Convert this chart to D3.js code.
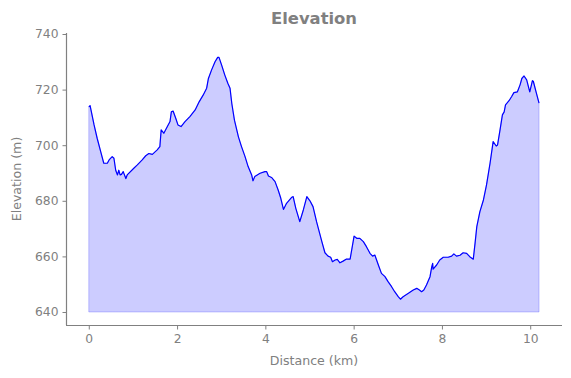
<!DOCTYPE html>
<html><head><meta charset="utf-8">
<script src="https://cdn.jsdelivr.net/npm/d3@7"></script>
<style>body{margin:0;background:#fff}svg{display:block}</style>
</head><body>
<svg id="c" width="571" height="378"></svg>
<script>
const distance = [0.00,0.03,0.12,0.19,0.27,0.34,0.42,0.46,0.53,0.57,0.61,0.65,0.68,0.71,0.74,0.78,0.84,0.87,1.02,1.10,1.21,1.29,1.36,1.44,1.55,1.61,1.64,1.70,1.78,1.84,1.87,1.91,1.97,2.02,2.09,2.18,2.29,2.41,2.50,2.59,2.67,2.71,2.78,2.86,2.92,2.95,3.01,3.08,3.15,3.20,3.24,3.30,3.39,3.46,3.54,3.61,3.69,3.72,3.76,3.88,3.99,4.03,4.07,4.14,4.22,4.29,4.35,4.41,4.48,4.60,4.63,4.69,4.78,4.86,4.94,5.01,5.08,5.16,5.28,5.35,5.42,5.48,5.52,5.58,5.63,5.69,5.76,5.83,5.92,6.01,6.07,6.14,6.22,6.29,6.37,6.43,6.48,6.56,6.63,6.71,6.78,6.86,6.93,7.01,7.06,7.12,7.24,7.35,7.43,7.49,7.54,7.59,7.65,7.73,7.77,7.79,7.80,7.88,7.95,8.03,8.14,8.22,8.27,8.33,8.41,8.48,8.56,8.63,8.71,8.75,8.79,8.86,8.94,9.01,9.09,9.16,9.23,9.26,9.31,9.37,9.41,9.44,9.52,9.58,9.63,9.71,9.77,9.81,9.86,9.92,9.99,10.05,10.07,10.14,10.20];
const elevation = [713.8,714.2,707.3,702.5,697.7,693.5,693.5,694.7,695.9,695.3,691.0,689.3,691.0,689.3,689.5,690.5,688.0,689.3,691.7,692.9,694.7,696.2,697.0,696.7,698.3,699.5,705.5,704.3,706.7,708.5,712.0,712.3,709.7,707.3,706.7,708.5,710.3,712.7,715.6,718.0,720.5,724.0,727.0,730.0,731.6,731.6,728.8,725.3,722.3,720.5,715.0,709.0,703.0,699.5,695.9,692.3,689.3,687.2,688.7,689.9,690.5,690.5,688.9,688.4,686.9,683.9,680.9,676.9,679.1,681.3,681.5,677.3,672.5,676.7,681.5,680.0,677.9,672.5,665.3,661.3,660.1,659.7,658.1,658.7,658.9,657.7,658.3,659.0,659.0,667.3,666.5,666.5,665.3,663.5,661.1,660.1,660.5,656.9,653.9,652.7,650.9,649.1,647.3,645.5,644.6,645.5,646.7,647.9,648.5,647.9,647.3,647.9,649.7,652.7,656.3,657.5,655.4,656.9,658.7,659.7,659.7,660.1,660.9,660.1,660.4,661.3,661.1,659.9,659.0,664.7,670.7,676.1,680.3,685.7,693.5,701.3,699.7,700.1,704.9,710.9,712.0,714.5,716.0,717.5,718.9,719.2,721.7,724.0,724.9,723.5,719.2,723.2,723.0,718.7,715.1];
const baseline = 640;
const xTicks = [0,2,4,6,8,10];
const yTicks = [640,660,680,700,720,740];
const title = "Elevation";
const xLabel = "Distance (km)";
const yLabel = "Elevation (m)";

const data = distance.map((d,i)=>({d, e: elevation[i]}));
const svg = d3.select("#c");
const L=66, R=562, T=33, B=325;
const x = d3.scaleLinear().domain([-0.516, 10.72]).range([L, R]);
const y = d3.scaleLinear().domain([635.32, 740.36]).range([B, T]);
const grey = "#808080";
const font = "DejaVu Sans, sans-serif";

svg.append("path").datum(data)
  .attr("d", d3.area().x(p=>x(p.d)).y0(y(baseline)).y1(p=>y(p.e)))
  .attr("fill","rgba(0,0,255,0.2)").attr("stroke","rgba(0,0,255,0.2)").attr("stroke-width",1);
svg.append("path").datum(data)
  .attr("d", d3.line().x(p=>x(p.d)).y(p=>y(p.e)))
  .attr("fill","none").attr("stroke","#0000ff").attr("stroke-width",1.2).attr("stroke-linejoin","round");

const xa = svg.append("g").attr("transform",`translate(0,${B+0.5})`)
  .call(d3.axisBottom(x).tickValues(xTicks).tickFormat(d3.format("d")).tickSizeOuter(0).tickSize(4).tickPadding(5));
const ya = svg.append("g").attr("transform",`translate(${L+0.5},0)`)
  .call(d3.axisLeft(y).tickValues(yTicks).tickFormat(d3.format("d")).tickSizeOuter(0).tickSize(4).tickPadding(4));
[xa,ya].forEach(g=>{
  g.select(".domain").attr("stroke",grey).attr("stroke-width",1.2);
  g.selectAll(".tick line").attr("stroke",grey).attr("stroke-width",1);
  g.selectAll(".tick text").attr("fill",grey).attr("font-family",font).attr("font-size",12.3);
});
xa.select(".domain").attr("d",`M${L},0H${R}`);
ya.select(".domain").attr("d",`M0,${B}V${T}`);

svg.append("text").attr("x",(L+R)/2).attr("y",24).attr("text-anchor","middle")
  .attr("font-family",font).attr("font-weight","bold").attr("font-size",16.4).attr("fill",grey).text(title);
svg.append("text").attr("x",(L+R)/2).attr("y",365).attr("text-anchor","middle")
  .attr("font-family",font).attr("font-size",12.6).attr("fill",grey).text(xLabel);
svg.append("text").attr("transform",`translate(21,${(T+B)/2}) rotate(-90)`).attr("text-anchor","middle")
  .attr("font-family",font).attr("font-size",12.6).attr("fill",grey).text(yLabel);
</script>
</body></html>
